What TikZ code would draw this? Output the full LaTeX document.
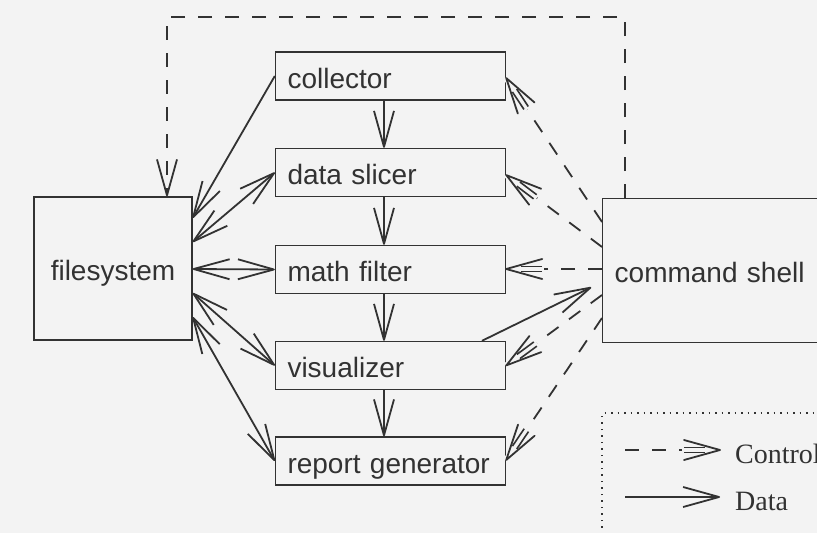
\documentclass[tikz,border=0pt]{standalone}
\usepackage{fontspec}
\setmainfont{Liberation Serif}
\newfontfamily\helv{Liberation Sans}
\usetikzlibrary{arrows.meta,decorations.markings}
\definecolor{ink}{RGB}{50,50,50}
\definecolor{paper}{RGB}{243,243,243}
\tikzset{
  >={Straight Barb[length=36pt,width=20pt,line join=round]},
  box/.style={draw=ink, line width=1.4pt, text=ink,
    font=\helv\fontsize{28}{32}\selectfont,
    text height=24pt, text depth=0pt, inner sep=0pt},
  stage/.style={box, minimum width=230pt, minimum height=48pt,
    text width=206pt, align=left},
  data/.style={draw=ink, line width=1.8pt},
  ctrl/.style={draw=ink, line width=1.8pt, dash pattern=on 14pt off 13pt,
    postaction={decorate},
    decoration={markings, mark=at position 1 with {
      \fill[paper] (-38pt,-3pt) rectangle (0.5pt,3pt);
      \draw[solid, ink, line width=1.8pt, line join=round, line cap=round]
        (-36pt,10pt) -- (0pt,0pt) -- (-36pt,-10pt);
      \draw[solid, ink, line width=1.6pt]
        (-36pt,2.6pt) -- (-15pt,2.6pt) (-36pt,-2.6pt) -- (-15pt,-2.6pt);
    }}},
  legendtext/.style={anchor=base west, text=ink, inner sep=0pt,
    font=\fontsize{28}{32}\selectfont},
}
\begin{document}
\begin{tikzpicture}[x=1pt, y=-1pt]
  \clip (0,0) rectangle (817,533);
  \fill[paper] (0,0) rectangle (817,533);

  % components
  \node[box, minimum width=158pt, minimum height=143pt] (fs) at (113,268.5) {filesystem};
  \node[box, anchor=north west, minimum width=240pt, minimum height=144pt,
        text width=216pt, align=left] (sh) at (602,198) {command shell};

  \node[stage] (col) at (390.5,76)    {collector};
  \node[stage] (ds)  at (390.5,172.5) {data slicer};
  \node[stage] (mf)  at (390.5,269.5) {math filter};
  \node[stage] (vis) at (390.5,365.5) {visualizer};
  \node[stage] (rg)  at (390.5,461)   {report generator};

  % data flow
  \draw[data,->] (col.west) -- (fs.east |- 0,218);
  \draw[data,<->] (fs.east |- 0,242) -- (ds.west);
  \draw[data,<->] (fs.east |- 0,269) -- (mf.west);
  \draw[data,<->] (fs.east |- 0,293) -- (vis.west);
  \draw[data,<->] (fs.east |- 0,317) -- (rg.west);

  \draw[data,->] (col.south -| 384,0) -- (ds.north -| 384,0);
  \draw[data,->] (ds.south -| 384,0)  -- (mf.north -| 384,0);
  \draw[data,->] (mf.south -| 384,0)  -- (vis.north -| 384,0);
  \draw[data,->] (vis.south -| 384,0) -- (rg.north -| 384,0);

  \draw[data,->, shorten >=12pt] (vis.north -| 482,0) -- (sh.west |- 0,282);

  % control flow
  \draw[data, dash pattern=on 14pt off 13pt, ->]
    (sh.north -| 625,0) -- (625,17) -- (167,17) -- (fs.north -| 167,0);
  \draw[ctrl] (sh.west |- 0,222) -- (col.east |- 0,78);
  \draw[ctrl] (sh.west |- 0,247) -- (ds.east |- 0,175);
  \draw[ctrl] (sh.west |- 0,269) -- (mf.east |- 0,269);
  \draw[ctrl] (sh.west |- 0,295) -- (vis.east);
  \draw[ctrl] (sh.west |- 0,318) -- (rg.east |- 0,460);

  % legend
  \draw[ink, line width=1.5pt, dash pattern=on 1.5pt off 5pt] (602,560) |- (850,413);
  \coordinate (lca) at (625,450);
  \coordinate (lcb) at (720,450);
  \coordinate (lda) at (625,497);
  \coordinate (ldb) at (720,497);
  \draw[ctrl] (lca) -- (lcb);
  \draw[data,->] (lda) -- (ldb);
  \node[legendtext] (lct) at (735,463) {Control};
  \node[legendtext] (ldt) at (735,510) {Data};
\end{tikzpicture}
\end{document}
